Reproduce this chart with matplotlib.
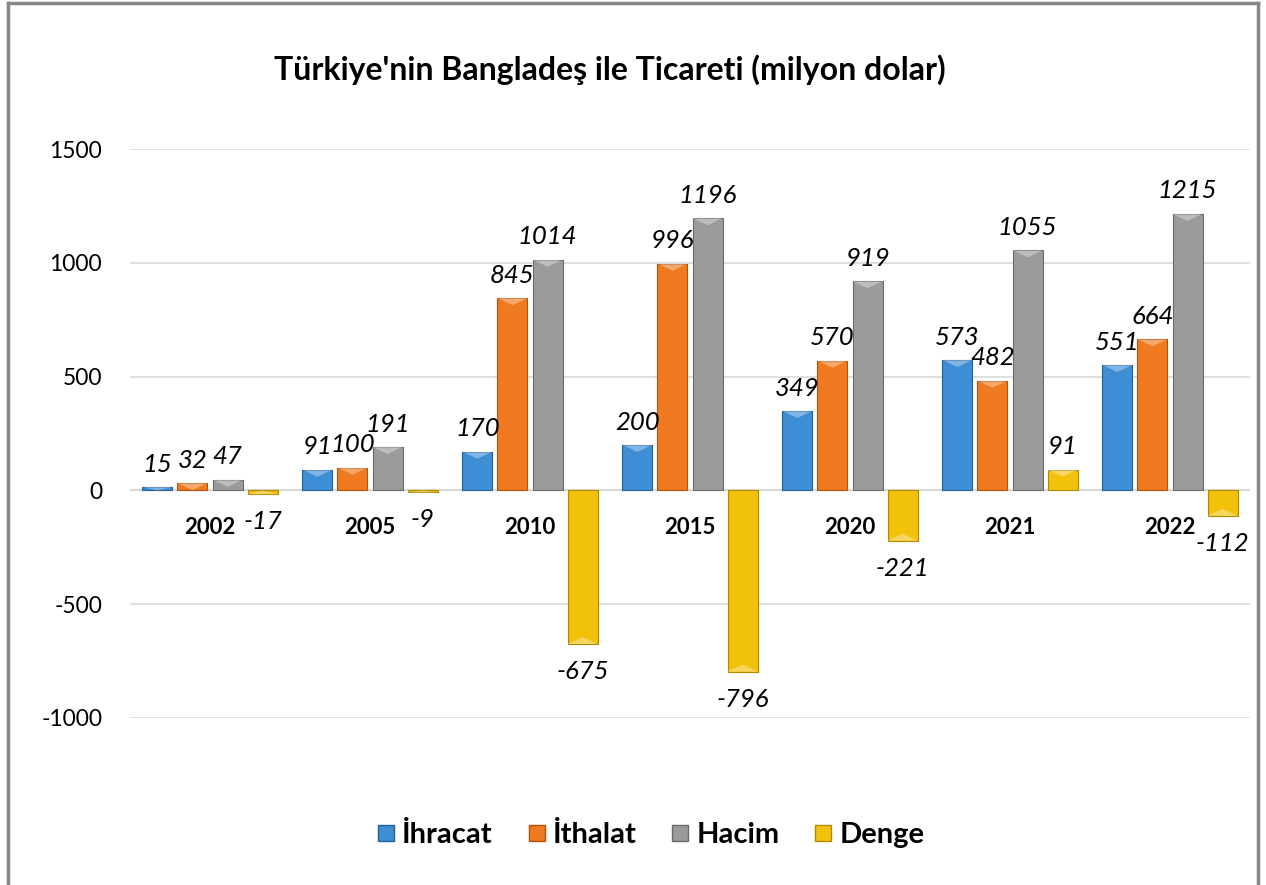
import matplotlib
matplotlib.use("Agg")
import matplotlib.pyplot as plt
import numpy as np
from matplotlib.patches import Polygon
from matplotlib.lines import Line2D

years = ["2002", "2005", "2010", "2015", "2020", "2021", "2022"]
ihracat = [15, 91, 170, 200, 349, 573, 551]
ithalat = [32, 100, 845, 996, 570, 482, 664]
hacim = [47, 191, 1014, 1196, 919, 1055, 1215]
denge = [-17, -9, -675, -796, -221, 91, -112]
series_names = ["İhracat", "İthalat", "Hacim", "Denge"]
colors = ["#3E8ED6", "#EF7A1F", "#9B9B9B", "#F2C10A"]
edges = ["#1F5F9A", "#B5510C", "#6A6A6A", "#B08A00"]

plt.rcParams['font.family'] = ['Lato', 'DejaVu Sans']
plt.rcParams['axes.unicode_minus'] = False

fig = plt.figure(figsize=(12.66, 8.85), dpi=100)
ax = fig.add_axes([130/1266, 1-718/885, 1120/1266, (718-149)/885])

x = np.arange(len(years))
w = 0.1875
step = 0.219
offsets = [-1.5*step, -0.5*step, 0.5*step, 1.5*step]
data = [ihracat, ithalat, hacim, denge]

ax.set_ylim(-1000, 1500)
ax.set_xlim(-0.5, len(years)-0.5)
ax.set_yticks([-1000, -500, 0, 500, 1000, 1500])
ax.yaxis.grid(True, color="#D9D9D9", lw=1.2)
ax.set_axisbelow(True)
for s in ax.spines.values():
    s.set_visible(False)
ax.tick_params(axis='y', length=0, labelsize=16.5, pad=20)
ax.set_xticks([])

ppu = (718-149)/2500.0  # pixels per unit
for vals, off, c, e in zip(data, offsets, colors, edges):
    bars = ax.bar(x+off, vals, width=w, color=c, edgecolor=e, linewidth=0.8, zorder=3)
    for b, v in zip(bars, vals):
        bx = b.get_x(); bw = b.get_width(); h = b.get_height()
        bevel_px = 7
        bev_u = min(abs(h), bevel_px/ppu)
        sgn = 1 if h >= 0 else -1
        poly = Polygon([[bx, h], [bx+bw, h], [bx+bw*0.5, h - sgn*bev_u]],
                       closed=True, facecolor="white", alpha=0.35, lw=0, zorder=4)
        ax.add_patch(poly)
        if v >= 0:
            ax.text(bx+bw/2, v+50, str(v), ha='center', va='bottom', fontsize=18.5,
                    style='italic', zorder=5)
        else:
            ax.text(bx+bw/2, v-70, str(v), ha='center', va='top', fontsize=18.5,
                    style='italic', zorder=5)

ax.axhline(0, color="#D9D9D9", lw=1.5, zorder=2)

for xi, yr in zip(x, years):
    ax.text(xi, -163, yr, ha='center', va='center', fontsize=16, fontweight='bold', zorder=5)

fig.text(610/1266, 1-70/885, "Türkiye'nin Bangladeş ile Ticareti (milyon dolar)",
         ha='center', va='center', fontsize=23, fontweight='bold')

handles = [Line2D([], [], marker='s', linestyle='none', markersize=11,
                  markerfacecolor=c, markeredgecolor=e) for c, e in zip(colors, edges)]
fig.legend(handles, series_names, loc='center', bbox_to_anchor=(648/1266, 1-835/885),
           ncol=4, frameon=False, prop={'weight': 'bold', 'size': 21},
           handletextpad=0.05, columnspacing=1.0, handlelength=1.0)

# outer border
for coords in [([8/1266, 8/1266], [0, 1-3/885]), ([8/1266, 1258/1266], [1-3/885, 1-3/885]),
               ([1258/1266, 1258/1266], [1-3/885, 0])]:
    fig.add_artist(Line2D(coords[0], coords[1], color="#878787", lw=2.5, transform=fig.transFigure))

fig.savefig("out.png", dpi=100)
